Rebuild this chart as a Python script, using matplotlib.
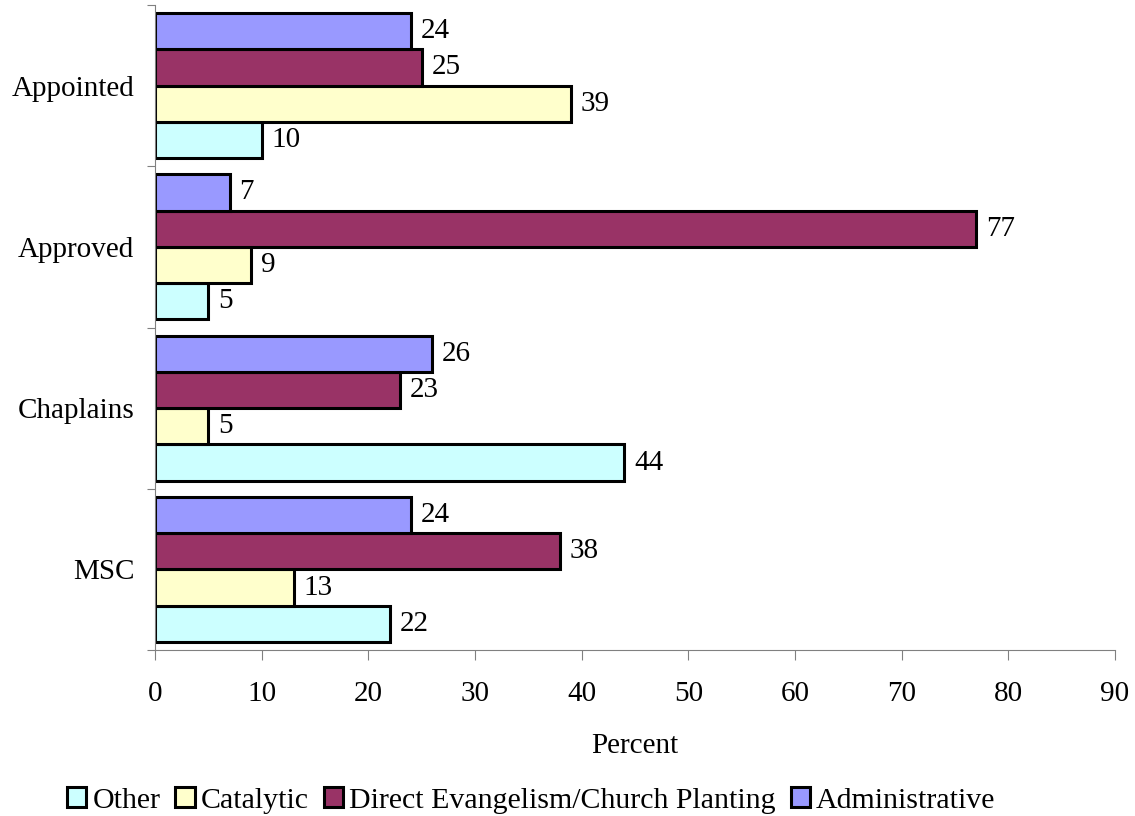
import numpy as np
import matplotlib
matplotlib.use("Agg")
import matplotlib.pyplot as plt
from matplotlib.patches import Patch

plt.rcParams['font.family'] = ['Liberation Serif', 'DejaVu Serif']

# groups (top to bottom) and the four series
groups = ["Appointed", "Approved", "Chaplains", "MSC"]
series = ["Other", "Catalytic", "Direct Evangelism/Church Planting", "Administrative"]
other = [10, 5, 44, 22]
catalytic = [39, 9, 5, 13]
direct = [25, 77, 23, 38]
administrative = [24, 7, 26, 24]
colors = ["#CCFFFF", "#FFFFCC", "#993366", "#9999FF"]

values = [other, catalytic, direct, administrative]

fig = plt.figure(figsize=(11.35, 8.16), dpi=100)
ax = fig.add_axes([0.1366, 0.2034, 0.8458, 0.7905])

h = 0.225
y = np.arange(len(groups))
# Other sits at the bottom of each group, Administrative at the top
offsets = [1.5 * h, 0.5 * h, -0.5 * h, -1.5 * h]

for vals, col, off in zip(values, colors, offsets):
    bars = ax.barh(y + off, vals, height=h, color=col, edgecolor="black", linewidth=2.2)
    for b, v in zip(bars, vals):
        ax.text(b.get_width() + 0.9, b.get_y() + b.get_height() / 2, str(v),
                va="center", ha="left", fontsize=21)

ax.set_xlim(0, 90)
ax.set_ylim(3.5, -0.5)
ax.set_xticks(np.arange(0, 91, 10))
ax.set_yticks(np.arange(-0.5, 3.6, 1.0))
ax.set_yticklabels([])
ax.set_yticks(y, minor=True)
ax.set_yticklabels(groups, minor=True, fontsize=21)
ax.tick_params(axis="y", which="minor", length=0, pad=15)
ax.tick_params(axis="y", which="major", length=6, color="#808080")
ax.tick_params(axis="x", length=7, pad=15, labelsize=21, color="#808080")

for s in ["top", "right"]:
    ax.spines[s].set_visible(False)
for s in ["left", "bottom"]:
    ax.spines[s].set_color("#808080")

ax.set_xlabel("Percent", fontsize=21, labelpad=19)

handles = [Patch(facecolor=c, edgecolor="black", linewidth=2.2) for c in colors]
fig.legend(handles, series, loc="lower center", bbox_to_anchor=(0.468, -0.03), ncol=4,
           frameon=False, fontsize=21.5, handlelength=0.65, handleheight=0.65,
           handletextpad=0.2, columnspacing=0.5)

fig.savefig("out.png", dpi=100)
